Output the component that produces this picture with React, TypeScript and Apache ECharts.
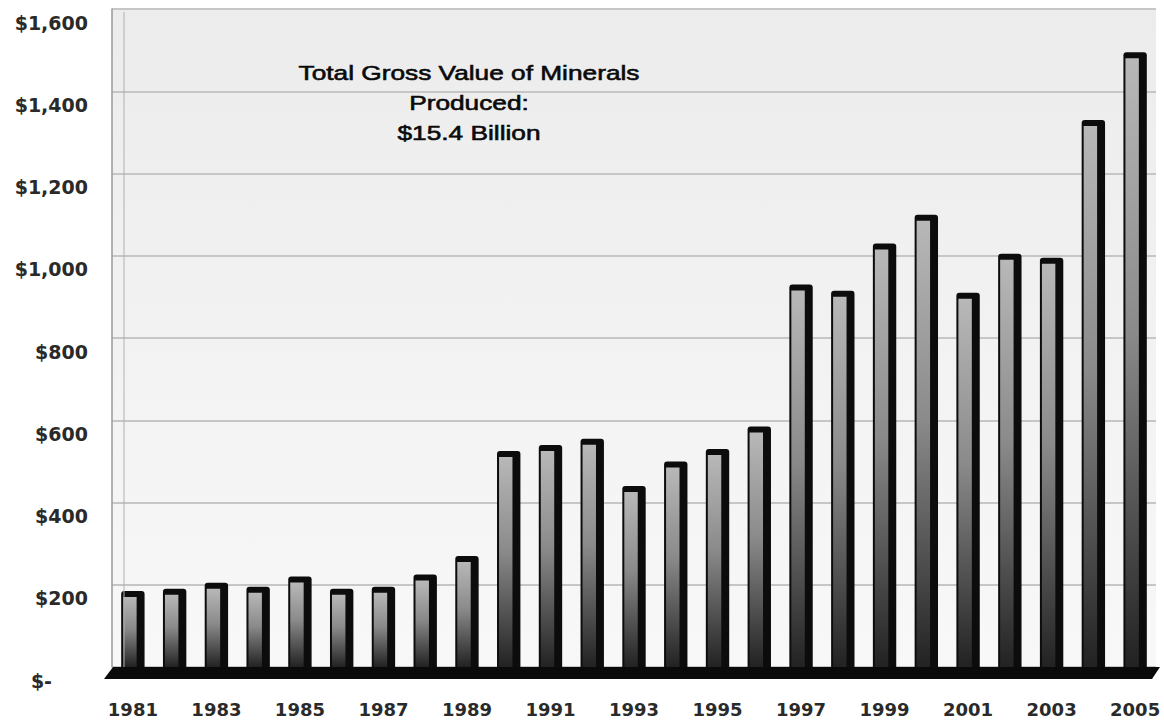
import React, { useEffect, useRef } from "react";
import * as echarts from "echarts";

const years = [
  "1981", "1982", "1983", "1984", "1985", "1986", "1987", "1988", "1989", "1990",
  "1991", "1992", "1993", "1994", "1995", "1996", "1997", "1998", "1999", "2000",
  "2001", "2002", "2003", "2004", "2005",
];
// Gross value of minerals produced, $ millions
const values = [
  185, 190, 205, 195, 220, 190, 195, 225, 270, 525,
  540, 555, 440, 500, 530, 585, 930, 915, 1030, 1100,
  910, 1005, 995, 1330, 1495,
];
const yMin = 0;
const yMax = 1600;
const yStep = 200;
const annotationLines = ["Total Gross Value of Minerals", "Produced:", "$15.4 Billion"];

function fmtY(v: number): string {
  if (v === 0) return "{z|$-}";
  return "$" + v.toLocaleString("en-US");
}

export default function App() {
  const ref = useRef<HTMLDivElement>(null);
  useEffect(() => {
    if (!ref.current) return;
    const chart = echarts.init(ref.current, undefined, { renderer: "svg" });
    const font = "DejaVu Sans";
    chart.setOption({
      animation: false,
      backgroundColor: "#ffffff",
      grid: {
        left: 112,
        right: 8,
        top: 9,
        bottom: 53,
        show: true,
        backgroundColor: new echarts.graphic.LinearGradient(0, 0, 0, 1, [
          { offset: 0, color: "#ececec" },
          { offset: 1, color: "#f8f8f8" },
        ]),
        borderWidth: 0,
      },
      xAxis: {
        type: "category",
        data: years,
        boundaryGap: true,
        axisLine: { show: false },
        axisTick: { show: false },
        axisLabel: {
          interval: 1,
          margin: 33,
          fontFamily: font,
          fontWeight: "bold",
          fontSize: 18,
          color: "#2a2a2a",
        },
        splitLine: { show: false },
      },
      yAxis: {
        type: "value",
        min: yMin,
        max: yMax,
        interval: yStep,
        axisLine: { show: true, lineStyle: { color: "#9a9a9a", width: 1.5 } },
        axisTick: { show: false },
        splitLine: { show: true, lineStyle: { color: "#c6c6c6", width: 2 } },
        axisLabel: {
          formatter: fmtY,
          margin: 24,
          padding: [27, 0, 0, 0],
          fontFamily: font,
          fontWeight: "bold",
          fontSize: 19,
          color: "#2a2a2a",
          rich: {
            z: {
              fontFamily: font,
              fontWeight: "bold",
              fontSize: 19,
              color: "#2a2a2a",
              padding: [0, 36, 0, 0],
            },
          },
        },
      },
      graphic: [
        {
          type: "line",
          z: 100,
          shape: { x1: 124, y1: 12, x2: 124, y2: 667 },
          style: { stroke: "#b0b0b0", lineWidth: 1 },
        },
        {
          type: "polygon",
          z: 100,
          shape: {
            points: [
              [104, 679],
              [113, 667],
              [1160, 667],
              [1152, 679],
            ],
          },
          style: { fill: "#0a0a0a" },
        },
        {
          type: "text",
          x: 469,
          y: 102,
          scaleX: 1.25,
          z: 100,
          style: {
            text: annotationLines.join("\n"),
            fontFamily: "Liberation Sans",
            fontSize: 21,
            lineHeight: 30,
            fill: "#0a0a0a",
            stroke: "#0a0a0a",
            lineWidth: 0.6,
            align: "center",
            verticalAlign: "middle",
          },
        },
      ],
      series: [
        {
          type: "custom",
          data: values.map((v, i) => [i, v]),
          encode: { x: 0, y: 1 },
          renderItem: (params: any, api: any) => {
            const idx = api.value(0);
            const val = api.value(1);
            const top = api.coord([idx, val]);
            const base = api.coord([idx, 0]);
            const band = api.size([1, 0])[0];
            const w = band * 0.56;
            const x0 = top[0] - w / 2;
            const h = base[1] - top[1];
            const front = w * 0.66;
            return {
              type: "group",
              children: [
                {
                  type: "rect",
                  shape: { x: x0, y: top[1], width: w, height: h, r: [3, 3, 0, 0] },
                  style: { fill: "#0c0c0c" },
                },
                {
                  type: "rect",
                  shape: { x: x0 + 2, y: top[1] + 6, width: front - 2, height: Math.max(0, h - 6) },
                  style: {
                    fill: new echarts.graphic.LinearGradient(0, 0, 0, 1, [
                      { offset: 0, color: "#b8b8b8" },
                      { offset: 0.45, color: "#8a8a8a" },
                      { offset: 1, color: "#222222" },
                    ]),
                  },
                },
              ],
            };
          },
        },
      ],
    });
    return () => chart.dispose();
  }, []);
  return (
    <div
      ref={ref}
      style={{ position: "absolute", left: 0, top: 0, width: 1164, height: 720 }}
    />
  );
}
